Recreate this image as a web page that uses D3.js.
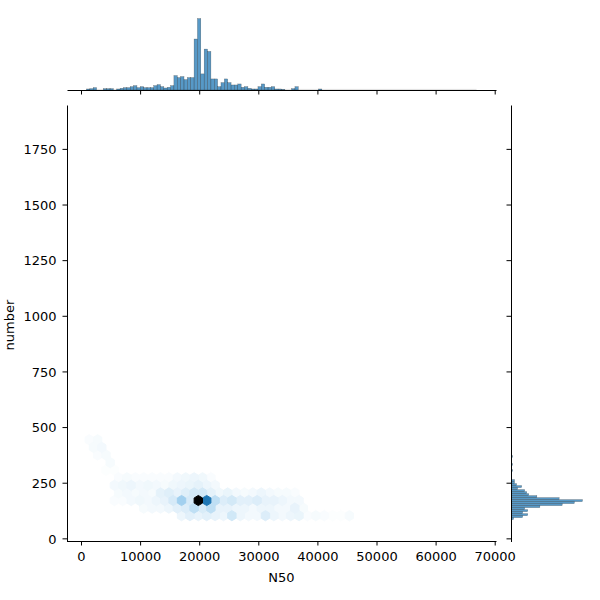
<!DOCTYPE html>
<html><head><meta charset="utf-8">
<script src="https://cdn.jsdelivr.net/npm/d3@7"></script>
<style>body{margin:0;background:#fff}text{font-family:"DejaVu Sans",sans-serif}</style>
</head><body>
<svg id="c" width="600" height="600"></svg>
<script>
// ---------------- data ----------------
const xLabel = "N50";
const yLabel = "number";
const xTicks = [0, 10000, 20000, 30000, 40000, 50000, 60000, 70000];
const yTicks = [0, 250, 500, 750, 1000, 1250, 1500, 1750];
const xExtent = [930, 66920];   // data min / max of N50
const yExtent = [75, 1858];     // data min / max of number

// top marginal histogram (N50), equal bins across xExtent
const topCounts = [3,4,7,0,0,4,4,4,0,3,5,7,7,10,13,7,10,7,7,7,
  13,16,10,6,8,13,43,37,40,31,37,37,152,213,48,122,115,33,33,10,
  22,33,22,15,15,18,8,10,5,3,3,10,18,8,8,10,3,3,2,0,
  0,4,10,0,0,0,0,0,0,3,0,0,0,0,0,0,0,0,0,0,
  0,0,0,0,0,0,0,0,0,0,0,0,0,0,0,0,0,0,0,0,
  0,0,0,0,0,0,0,0,0,0,0,0,0,0,0,0];

// right marginal histogram (number), equal bins across yExtent
const rightCountsLow = [0,2,11,16,11,16,13,28,50,62,70,47,25,17,15,13,6,10,5,3,
  3,0,0,0,0,1,0,0,1,0,0,0,1];
const rightBins = 198;
const rightCounts = rightCountsLow.concat(new Array(rightBins - rightCountsLow.length).fill(0));

// hexbin cells: one entry per hex row (row centre y, first centre x, counts along the row)
const hexWidth = 1420;   // N50 units between neighbouring hex centres
const hexHeight = 68.2;  // number units (matplotlib sy)
const hexRowY  = [442.8, 408.7, 374.6, 340.5, 306.4, 272.3, 238.2, 204.1, 170.0, 135.9, 101.8];
const hexRowX0 = [1390, 2100, 2810, 4940, 4230, 6360, 5650, 6360, 5650, 10620, 17010];
const hexRowCounts = [
  [2, 3],
  [3, 4],
  [2, 3],
  [3],
  [1, 1],
  [2,3,2,2,2,2,2,4,5,6,5,2],
  [4,5,6,4,5,4,3,5,6,7,9,6,4],
  [3,4,3,4,3,9,11,8,11,15,15,9,5,7,4,3,4,6,4,3,3,2],
  [2,2,4,5,4,6,8,14,32,14,150,88,22,12,15,10,10,12,8,8,6,4,4],
  [3,4,4,6,10,12,22,13,22,8,8,6,6,4,6,6,4,4,8,3],
  [6,10,8,10,8,6,16,6,4,4,12,6,4,6,7,2,3,2,1,1,3]
];

// ---------------- layout ----------------
const L = 67, R = 496, T = 105, B = 541.5;      // joint axes
const MT = 15, MB = 90;                          // top marginal
const ML = 511.5, MR = 586;                      // right marginal
const C0 = "#1f77b4";

const svg = d3.select("#c");

const xPad = (xExtent[1] - xExtent[0]) * 0.05;
const yPad = (yExtent[1] - yExtent[0]) * 0.05;
const x = d3.scaleLinear().domain([xExtent[0] - xPad, xExtent[1] + xPad]).range([L, R]);
const y = d3.scaleLinear().domain([yExtent[0] - yPad, yExtent[1] + yPad]).range([B, T]);

// colormap: C0 with lightness 1 -> 0 (seaborn jointplot hex)
const base = d3.hsl(C0);
const stops = d3.range(12).map(i => d3.hsl(base.h, base.s, 1 - i / 11).formatRgb());
const cmap = d3.scaleLinear().domain(d3.range(12).map(i => i / 11)).range(stops).interpolate(d3.interpolateRgb);

// ---------------- hexbin ----------------
const cells = [];
hexRowY.forEach((Y, r) => hexRowCounts[r].forEach((c, j) => {
  if (c > 0) cells.push({X: hexRowX0[r] + j * hexWidth, Y, c});
}));
const maxC = d3.max(cells, d => d.c);
cells.sort((a, b) => a.c - b.c);
const hw = hexWidth / 2, h6 = hexHeight / 6, h3 = hexHeight / 3;
svg.append("g").selectAll("polygon").data(cells).join("polygon")
  .attr("points", d => [[d.X + hw, d.Y - h6], [d.X + hw, d.Y + h6], [d.X, d.Y + h3],
                        [d.X - hw, d.Y + h6], [d.X - hw, d.Y - h6], [d.X, d.Y - h3]]
                        .map(p => [x(p[0]), y(p[1])].join(",")).join(" "))
  .attr("fill", d => cmap(d.c / maxC))
  .attr("stroke", d => cmap(d.c / maxC))
  .attr("stroke-width", 1);

// ---------------- top marginal histogram ----------------
const topW = (xExtent[1] - xExtent[0]) / topCounts.length;
const yTop = d3.scaleLinear().domain([0, d3.max(topCounts) * 1.05]).range([MB, MT]);
svg.append("line").attr("x1", x(xExtent[0])).attr("x2", x(xExtent[1]))
  .attr("y1", MB - 0.6).attr("y2", MB - 0.6).attr("stroke", "#c8c8c8").attr("stroke-width", 0.6);
svg.append("g").selectAll("rect").data(topCounts.map((c, i) => ({c, i})).filter(d => d.c > 0)).join("rect")
  .attr("x", d => x(xExtent[0] + d.i * topW))
  .attr("width", d => x(xExtent[0] + (d.i + 1) * topW) - x(xExtent[0] + d.i * topW))
  .attr("y", d => yTop(d.c))
  .attr("height", d => yTop(0) - yTop(d.c))
  .attr("fill", C0).attr("fill-opacity", 0.75)
  .attr("stroke", "#2b2b2b").attr("stroke-opacity", 0.6).attr("stroke-width", 0.4);

// ---------------- right marginal histogram ----------------
const rightW = (yExtent[1] - yExtent[0]) / rightCounts.length;
const xRight = d3.scaleLinear().domain([0, d3.max(rightCounts) * 1.05]).range([ML, MR]);
svg.append("g").selectAll("rect").data(rightCounts.map((c, i) => ({c, i})).filter(d => d.c > 0)).join("rect")
  .attr("y", d => y(yExtent[0] + (d.i + 1) * rightW))
  .attr("height", d => y(yExtent[0] + d.i * rightW) - y(yExtent[0] + (d.i + 1) * rightW))
  .attr("x", xRight(0))
  .attr("width", d => xRight(d.c) - xRight(0))
  .attr("fill", C0).attr("fill-opacity", 0.75)
  .attr("stroke", "#2b2b2b").attr("stroke-opacity", 0.6).attr("stroke-width", 0.4);

// ---------------- axes ----------------
function style(g) {
  g.selectAll("path.domain").attr("stroke", "#000").attr("stroke-width", 1);
  g.selectAll(".tick line").attr("stroke", "#000").attr("stroke-width", 1);
  g.selectAll("text").attr("font-family", "DejaVu Sans").attr("font-size", 13).attr("fill", "#000");
}
const gx = svg.append("g").attr("transform", `translate(0,${B - 0.5})`)
  .call(d3.axisBottom(x).tickValues(xTicks).tickFormat(d3.format("d")).tickSize(4.5).tickSizeOuter(0).tickPadding(6.3));
style(gx);
const gy = svg.append("g").attr("transform", `translate(${L},0)`)
  .call(d3.axisLeft(y).tickValues(yTicks).tickFormat(d3.format("d")).tickSize(4.5).tickSizeOuter(0).tickPadding(6));
style(gy);
gy.selectAll("text").attr("dy", "0.36em");

const gtx = svg.append("g").attr("transform", `translate(0,${MB})`)
  .call(d3.axisBottom(x).tickValues(xTicks).tickFormat("").tickSize(4.5).tickSizeOuter(0));
style(gtx);
const gry = svg.append("g").attr("transform", `translate(${ML - 0.5},0)`)
  .call(d3.axisLeft(y).tickValues(yTicks).tickFormat("").tickSize(4.5).tickSizeOuter(0));
style(gry);

svg.append("text").attr("x", (L + R) / 2).attr("y", 582.3).attr("text-anchor", "middle")
  .attr("font-size", 13).attr("fill", "#000").text(xLabel);
svg.append("text").attr("transform", "translate(14,325) rotate(-90)").attr("text-anchor", "middle")
  .attr("font-size", 13).attr("fill", "#000").text(yLabel);
</script>
</body></html>
